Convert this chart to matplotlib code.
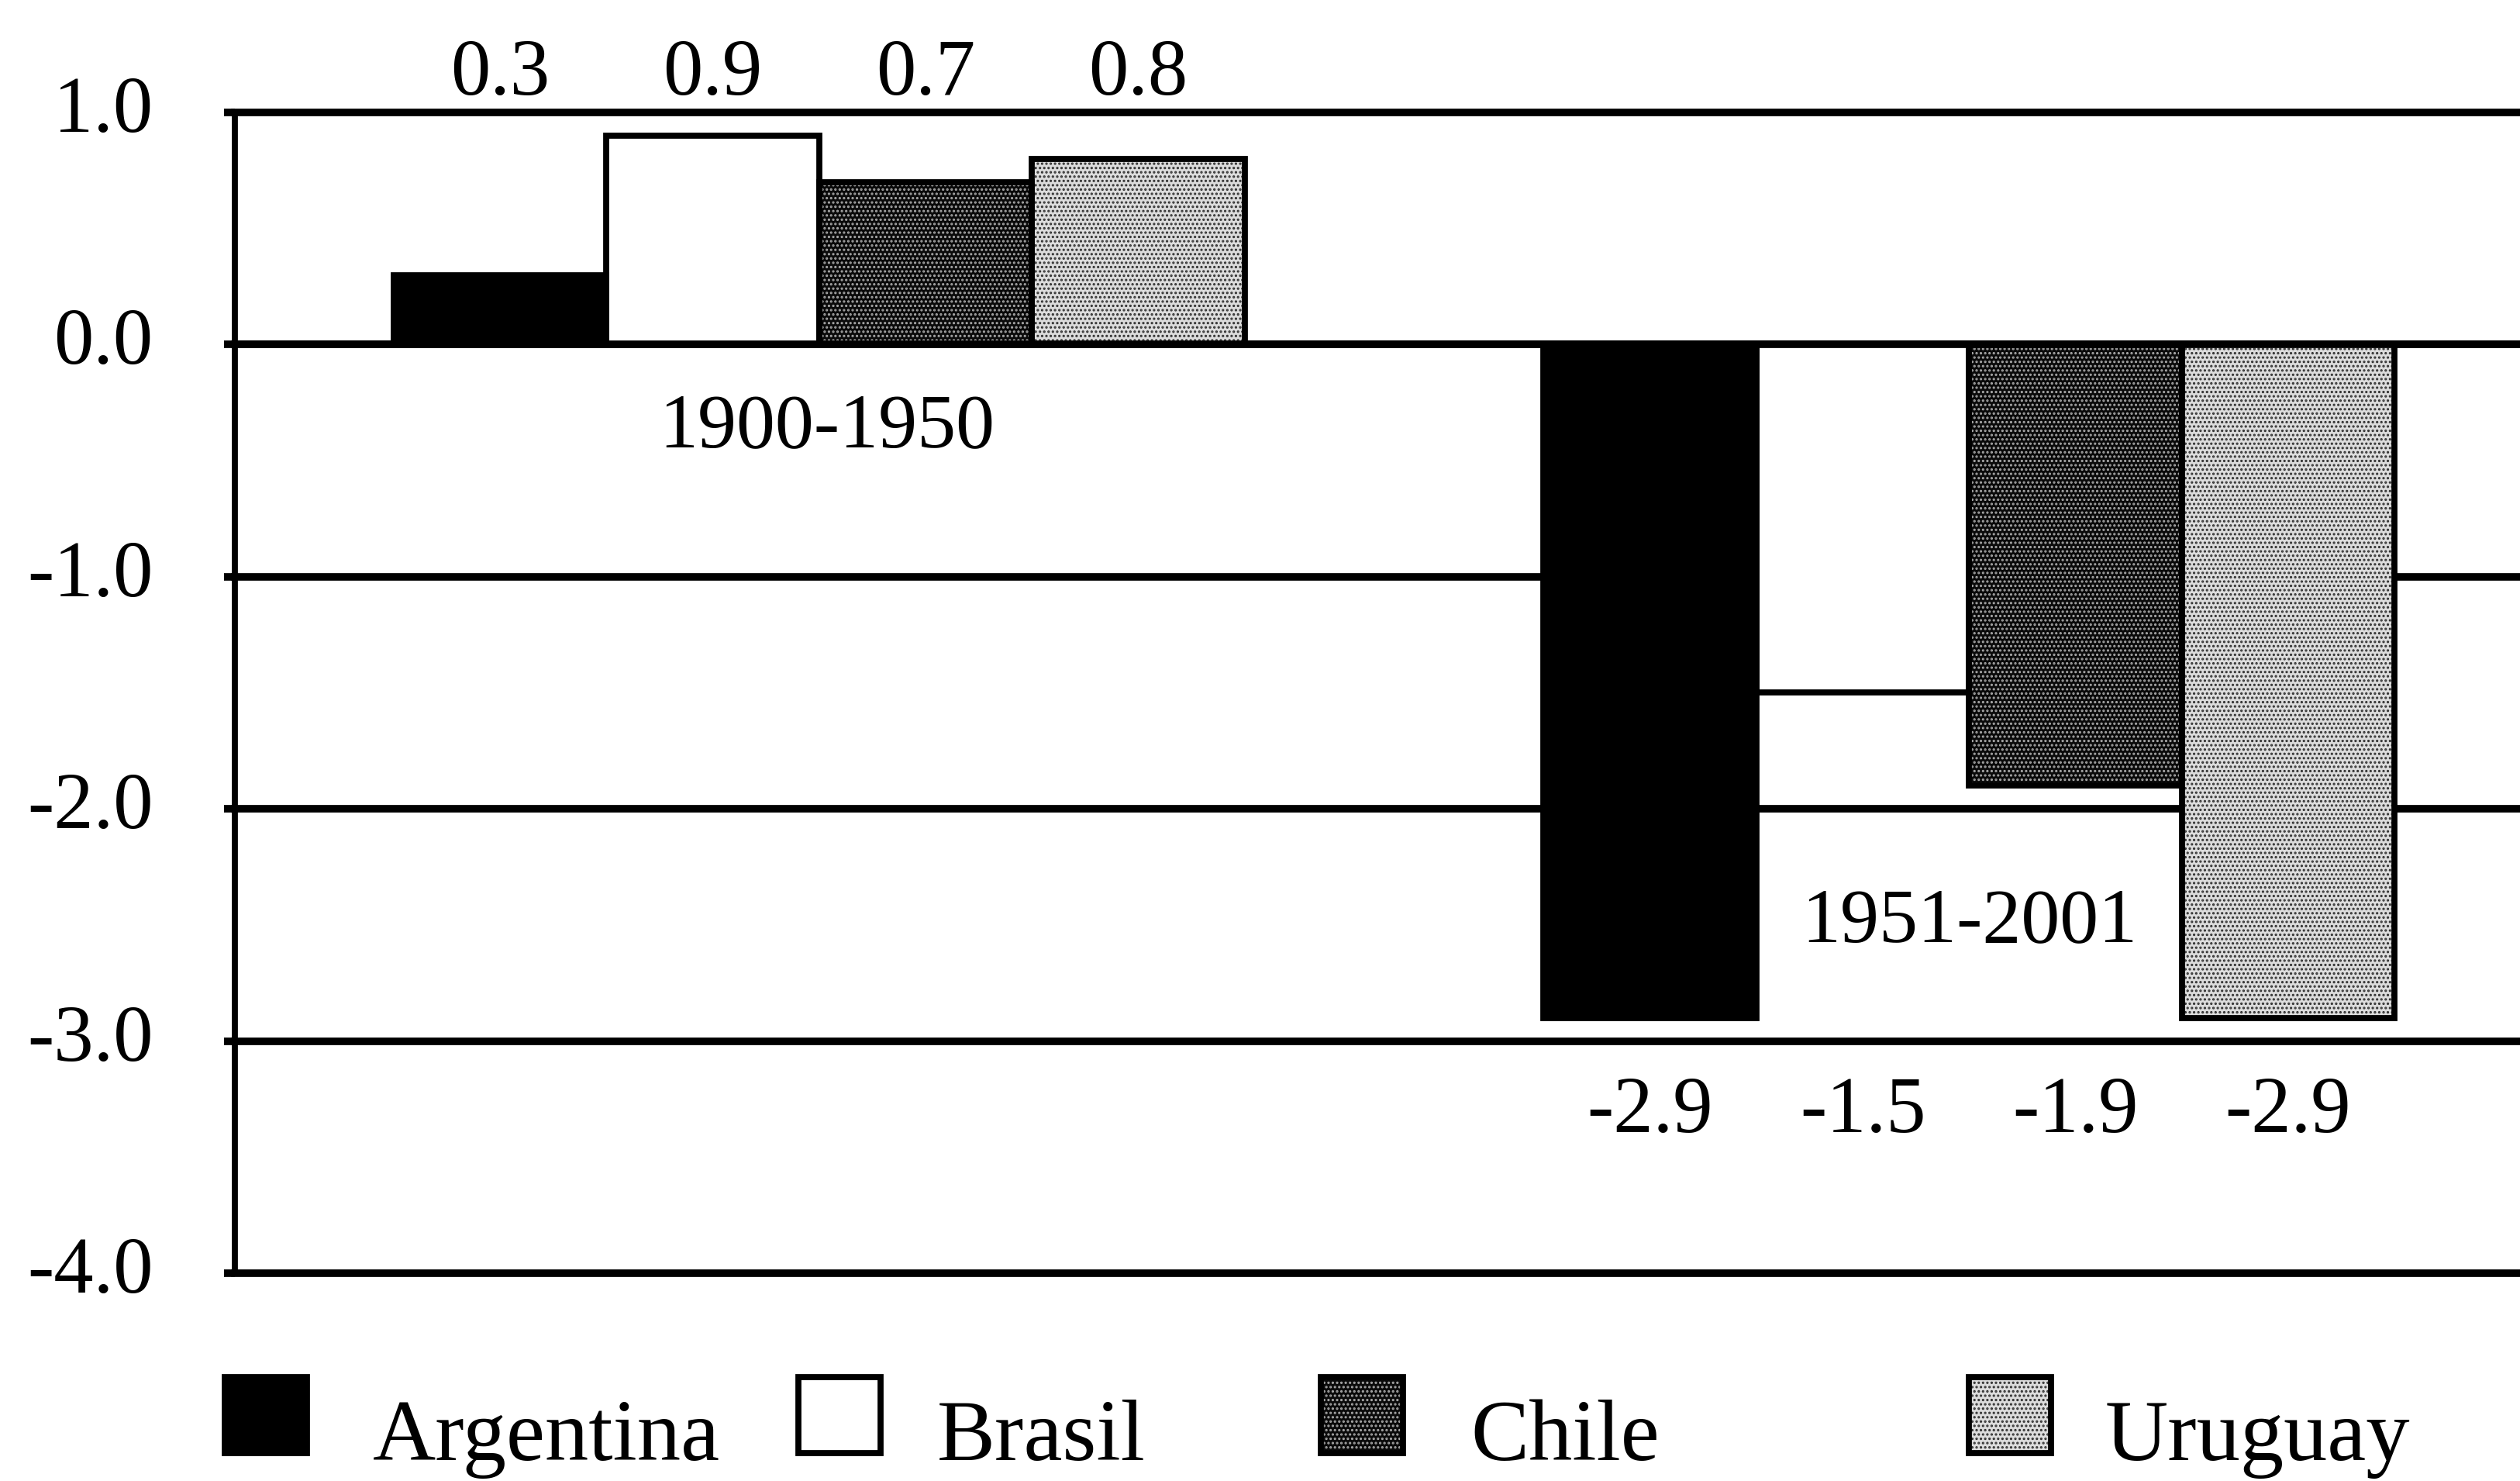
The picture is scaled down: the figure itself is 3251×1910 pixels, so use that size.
import matplotlib
matplotlib.use('Agg')
import matplotlib.pyplot as plt
from matplotlib.patches import Rectangle
from matplotlib.ticker import FormatStrFormatter
import numpy as np

plt.rcParams['font.family'] = ['Liberation Serif', 'DejaVu Serif']
plt.rcParams['axes.unicode_minus'] = False
plt.rcParams['hatch.linewidth'] = 1.5

# tasas por país en los dos periodos
periods = ['1900-1950', '1951-2001']
countries = ['Argentina', 'Brasil', 'Chile', 'Uruguay']
period_1900_1950 = [0.3, 0.9, 0.7, 0.8]
period_1951_2001 = [-2.9, -1.5, -1.9, -2.9]
yticks = [1.0, 0.0, -1.0, -2.0, -3.0, -4.0]

# relleno de cada país: (color de fondo, color del punteado, trama)
styles = {
    'Argentina': ('black', 'black', None),
    'Brasil': ('white', 'white', None),
    'Chile': ('#0a0a0a', '#a8a8a8', '...'),
    'Uruguay': ('#dcdcdc', '#303030', '...'),
}

fig = plt.figure(figsize=(32.51, 19.10), dpi=100)
ax = fig.add_axes([0.0932, 0.1403, 0.9068, 0.7838])

width = 0.185
x = np.arange(len(periods))
values = np.array([period_1900_1950, period_1951_2001])
lw = 7

for i, c in enumerate(countries):
    face, dots, hatch = styles[c]
    pos = x + (i - 1.5) * width
    ax.bar(pos, values[:, i], width, color=face, edgecolor=dots,
           hatch=hatch, linewidth=0, zorder=2)
    ax.bar(pos, values[:, i], width, facecolor='none', edgecolor='black',
           linewidth=lw * 0.8, zorder=3)
    # etiquetas de valor
    ax.text(pos[0], 1.16, f'{values[0, i]:.1f}', ha='center', va='center',
            fontsize=74, clip_on=False)
    ax.text(pos[1], -3.31, f'{values[1, i]:.1f}', ha='center', va='center',
            fontsize=74)

ax.text(x[0] + 0.007, -0.36, periods[0], ha='center', va='center', fontsize=72)
ax.text(x[1], -2.49, periods[1], ha='center', va='center', fontsize=72)

ax.set_xlim(-0.508, 1.479)
ax.set_ylim(-4.0, 1.0)
ax.set_yticks(yticks)
ax.yaxis.set_major_formatter(FormatStrFormatter('%.1f'))
ax.set_xticks([])
ax.tick_params(axis='y', direction='out', length=10, width=lw, pad=66,
               labelsize=74)
for t in ax.get_yticklabels():
    t.set_verticalalignment('center')

ax.grid(axis='y', color='black', linewidth=lw)
ax.set_axisbelow(True)
for gl in ax.get_ygridlines():
    gl.set_clip_on(False)
ax.axhline(0, color='black', linewidth=lw, zorder=4)
ax.spines['right'].set_visible(False)
ax.spines['left'].set_linewidth(lw * 0.8)
ax.spines['top'].set_visible(False)
ax.spines['bottom'].set_visible(False)

# leyenda manual en la parte inferior
leg_x = [290, 1030, 1704, 2540]
text_x = [481, 1209, 1897, 2716]
W, H = 3251, 1910
for c, lx, tx in zip(countries, leg_x, text_x):
    face, dots, hatch = styles[c]
    r = Rectangle((lx / W, (H - 1874) / H), 106 / W, 98 / H,
                  transform=fig.transFigure, facecolor=face, edgecolor=dots,
                  hatch=hatch, linewidth=0)
    fig.add_artist(r)
    fig.add_artist(Rectangle((lx / W, (H - 1874) / H), 106 / W, 98 / H,
                             transform=fig.transFigure, facecolor='none',
                             edgecolor='black', linewidth=lw * 0.8))
    fig.text(tx / W, (H - 1883) / H, c, fontsize=81, va='baseline', ha='left')

fig.savefig('out.png', dpi=100)
